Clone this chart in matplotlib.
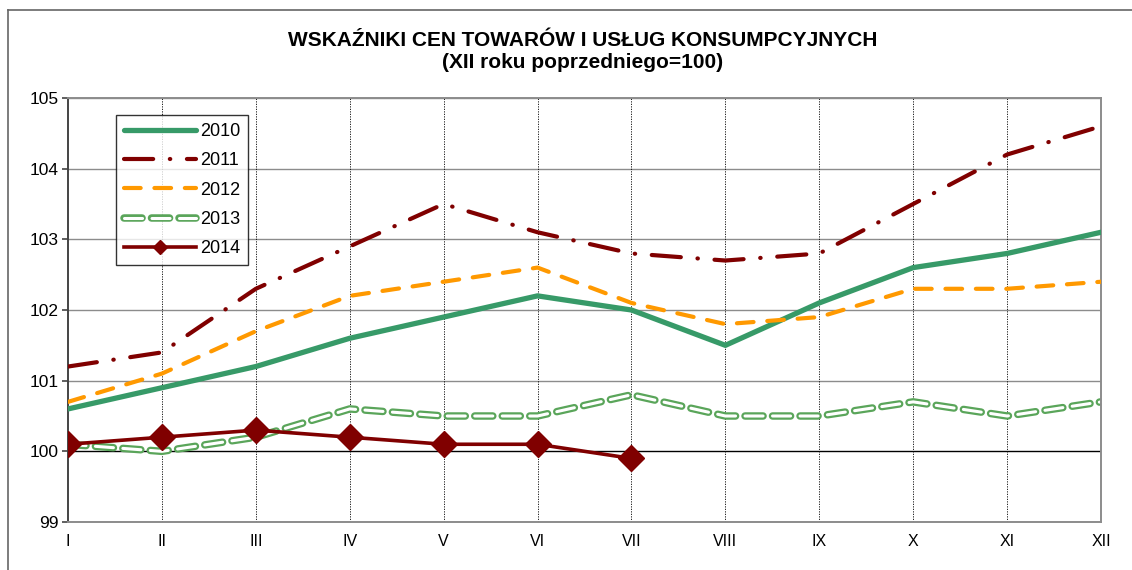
import matplotlib
matplotlib.use("Agg")
import matplotlib.pyplot as plt
import matplotlib.patheffects as pe
from matplotlib.lines import Line2D

plt.rcParams['font.family'] = ['Liberation Sans', 'DejaVu Sans']

# -- data --
months = ['I', 'II', 'III', 'IV', 'V', 'VI', 'VII', 'VIII', 'IX', 'X', 'XI', 'XII']
y2010 = [100.6, 100.9, 101.2, 101.6, 101.9, 102.2, 102.0, 101.5, 102.1, 102.6, 102.8, 103.1]
y2011 = [101.2, 101.4, 102.3, 102.9, 103.5, 103.1, 102.8, 102.7, 102.8, 103.5, 104.2, 104.6]
y2012 = [100.7, 101.1, 101.7, 102.2, 102.4, 102.6, 102.1, 101.8, 101.9, 102.3, 102.3, 102.4]
y2013 = [100.1, 100.0, 100.2, 100.6, 100.5, 100.5, 100.8, 100.5, 100.5, 100.7, 100.5, 100.7]
y2014 = [100.1, 100.2, 100.3, 100.2, 100.1, 100.1, 99.9]

x = list(range(len(months)))

fig = plt.figure(figsize=(11.32, 5.70), dpi=100)
ax = fig.add_axes([68 / 1132, 1 - 522 / 570, (1101 - 68) / 1132, (522 - 98) / 570])

# outer frame (left and top edges only visible)
fig.add_artist(Line2D([8 / 1132, 8 / 1132], [0, 1 - 10 / 570], color='#666666', lw=1.2))
fig.add_artist(Line2D([8 / 1132, 1], [1 - 10 / 570, 1 - 10 / 570], color='#666666', lw=1.2))

# gridlines
for yv in [99, 101, 102, 103, 104, 105]:
    ax.axhline(yv, color='#8c8c8c', lw=1.0, zorder=0)
ax.axhline(100, color='black', lw=1.0, zorder=0)
for xv in x[1:-1]:
    ax.axvline(xv, color='black', lw=0.6, ls=(0, (1.5, 1.5)), zorder=0)

red = '#800000'
green13 = '#5aa55a'

l10, = ax.plot(x, y2010, color='#379a68', lw=3.8, solid_capstyle='round', label='2010', zorder=3)
l11, = ax.plot(x, y2011, color=red, lw=3.0, dash_capstyle='round',
               ls=(0, (7, 4, 0.1, 4)), label='2011', zorder=3)
l12, = ax.plot(x, y2012, color='#ff9900', lw=3.0, dash_capstyle='round',
               ls=(0, (4, 3.3)), label='2012', zorder=3)
l13, = ax.plot(x, y2013, color=green13, lw=2.0, dash_capstyle='round',
               ls=(0, (6.5, 3.4)), label='2013', zorder=2,
               path_effects=[pe.Stroke(linewidth=5.4, foreground=green13),
                             pe.Stroke(linewidth=2.2, foreground='white')])
l14, = ax.plot(x[:len(y2014)], y2014, color=red, lw=2.6, marker='D', markersize=13,
               label='2014', zorder=4)

ax.set_xlim(0, 11)
ax.set_ylim(99, 105)
ax.set_xticks(x)
ax.set_xticklabels(months)
ax.set_yticks([99, 100, 101, 102, 103, 104, 105])
ax.tick_params(axis='x', length=0, pad=9, labelsize=11.5)
ax.tick_params(axis='y', length=4, width=1.2, color='#444444', pad=3, labelsize=12.5)
for s in ['top', 'right', 'bottom']:
    ax.spines[s].set_color('#8c8c8c')
    ax.spines[s].set_linewidth(1.4)
ax.spines['left'].set_color('#444444')
ax.spines['left'].set_linewidth(1.4)

leg = ax.legend(handles=[l10, l11, l12, l13, l14], loc='upper left',
                bbox_to_anchor=((116 - 68) / (1101 - 68), 1 - (115 - 98) / (522 - 98)),
                frameon=True, fancybox=False, edgecolor='black', fontsize=13,
                handlelength=4.0, handletextpad=0.2, labelspacing=0.68,
                borderpad=0.45, borderaxespad=0, markerscale=0.55)
leg.get_frame().set_linewidth(1.0)

fig.text(583 / 1132, 1 - 40 / 570, 'WSKAŹNIKI CEN TOWARÓW I USŁUG KONSUMPCYJNYCH',
         ha='center', va='center', fontsize=15, fontweight='bold')
fig.text(583 / 1132, 1 - 62 / 570, '(XII roku poprzedniego=100)',
         ha='center', va='center', fontsize=15, fontweight='bold')

fig.savefig('out.png', dpi=100)
